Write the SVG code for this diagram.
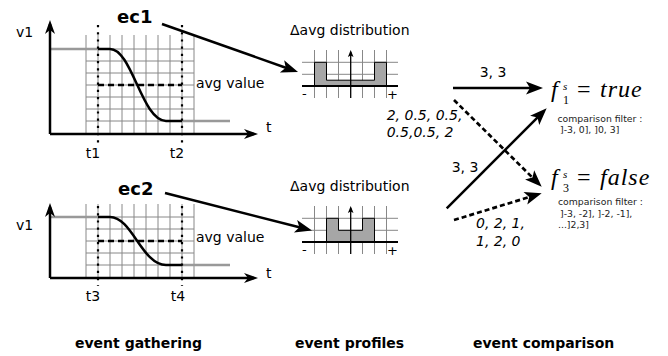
<svg xmlns="http://www.w3.org/2000/svg" width="668" height="356" viewBox="0 0 668 356">
<defs>
<marker id="big" markerUnits="userSpaceOnUse" markerWidth="30" markerHeight="20" viewBox="-10 -10 30 20" refX="0" refY="0" orient="auto" overflow="visible">
<path d="M10,0 L-7,-6.5 L-3,0 L-7,6.5 z" fill="#000"/>
</marker>
<marker id="ax" markerUnits="userSpaceOnUse" markerWidth="20" markerHeight="14" viewBox="-12 -7 20 14" refX="0" refY="0" orient="auto" overflow="visible">
<path d="M4,0 L-10,-5 L-6,0 L-10,5 z" fill="#000"/>
</marker>
<marker id="sm" markerUnits="userSpaceOnUse" markerWidth="10" markerHeight="8" viewBox="-6 -4 10 8" refX="0" refY="0" orient="auto" overflow="visible">
<path d="M2,0 L-5,-2.8 L-3.5,0 L-5,2.8 z" fill="#000"/>
</marker>
</defs>
<style>
text{font-family:"DejaVu Sans","Noto Sans",sans-serif;fill:#000}
.grid{stroke:#888;stroke-width:1;fill:none}
.axis{stroke:#000;stroke-width:2.5;fill:none}
.gray{stroke:#999;stroke-width:2.5;fill:none}
.curve{stroke:#000;stroke-width:2.5;fill:none}
.avg{stroke:#000;stroke-width:2.5;stroke-dasharray:6,4;fill:none}
.dot{stroke:#000;stroke-width:2.2;stroke-dasharray:2.2,5;fill:none}
.lbl{font-size:14px}
.ec{font-size:18px;font-weight:bold}
.ttl{font-size:14px}
.bar{fill:#a6a6a6;stroke:#000;stroke-width:1}
.base{stroke:#000;stroke-width:2;fill:none}
.hax{stroke:#000;stroke-width:1.3;fill:none}
.pm{font-size:13px}
.num{font-size:14px;font-style:italic}
.cnt{font-size:14px}
.conn{stroke:#000;stroke-width:2.5;fill:none}
.dash{stroke:#000;stroke-width:2.7;stroke-dasharray:5,3;fill:none}
.math{font-family:"Liberation Serif","DejaVu Serif",serif;font-style:italic;font-size:24px}
.up{font-style:normal}
.sup{font-size:11px}
.sub{font-size:12px}
.word{letter-spacing:1px}
.flt{font-size:9.3px;fill:#222}
.stage{font-size:14px;font-weight:bold}
</style>

<g id="plot1">
<path class="grid" d="M86,35V134M110,35V134M122,35V134M134,35V134M146,35V134M158,35V134M170,35V134M194,35V134M98,35V134M182,35V134"/>
<path class="grid" d="M86,49H194M86,61H194M86,73H194M86,85H194M86,97H194M86,109H194M86,121H194"/>
<path class="gray" d="M50,49H98M182,121H230"/>
<path class="curve" d="M98,49H110C132,49 142,121 166,121H182"/>
<path class="avg" d="M98,85H182"/>
<path class="dot" d="M98,25V143M182,25V143"/>
<path class="axis" d="M50,134V24" marker-end="url(#ax)"/>
<path class="axis" d="M50,134H254" marker-end="url(#ax)"/>
<text class="lbl" x="16" y="37">v1</text>
<text class="lbl" x="266" y="132">t</text>
<text class="lbl" x="93" y="158" text-anchor="middle">t1</text>
<text class="lbl" x="177" y="158" text-anchor="middle">t2</text>
<text class="lbl" x="196" y="88">avg value</text>
<text class="ec" x="117" y="23">ec1</text>
</g>

<g id="plot2">
<path class="grid" d="M86,204V278M110,204V278M122,204V278M134,204V278M146,204V278M158,204V278M170,204V278M194,204V278M98,204V278M182,204V278"/>
<path class="grid" d="M86,217H194M86,229H194M86,241H194M86,253H194M86,265H194"/>
<path class="gray" d="M50,217H98M182,265H230"/>
<path class="curve" d="M98,217H110C132,217 142,265 166,265H182"/>
<path class="avg" d="M98,241H182"/>
<path class="dot" d="M98,206V286M182,206V286"/>
<path class="axis" d="M50,278V207" marker-end="url(#ax)"/>
<path class="axis" d="M50,278H254" marker-end="url(#ax)"/>
<text class="lbl" x="16" y="230">v1</text>
<text class="lbl" x="266" y="278">t</text>
<text class="lbl" x="93" y="301" text-anchor="middle">t3</text>
<text class="lbl" x="178" y="301" text-anchor="middle">t4</text>
<text class="lbl" x="196" y="242">avg value</text>
<text class="ec" x="118" y="195">ec2</text>
</g>

<g id="hist1">
<text class="ttl" x="290" y="35">Δavg distribution</text>
<path class="grid" d="M314.5,50V98M326.5,50V98M338.5,50V98M362.5,50V98M374.5,50V98M386.5,50V98"/>
<path class="grid" d="M302,62.3H398M302,74.3H398"/>
<path class="bar" d="M314.5,86V62.3H326.5V80.2H374.5V62.3H386.5V86z"/>
<path class="base" d="M302,86H398"/>
<path class="hax" d="M350.7,98V52" marker-end="url(#sm)"/>
<text class="pm" x="302" y="98">-</text>
<text class="pm" x="387" y="99">+</text>
</g>

<g id="hist2">
<text class="ttl" x="290" y="191">Δavg distribution</text>
<path class="grid" d="M314.5,206V254M326.5,206V254M338.5,206V254M362.5,206V254M374.5,206V254M386.5,206V254"/>
<path class="grid" d="M302,218.3H398M302,230.3H398"/>
<path class="bar" d="M326.5,242V218.3H338.5V230.3H362.5V218.3H374.5V242z"/>
<path class="base" d="M302,242H398"/>
<path class="hax" d="M350.7,254V208" marker-end="url(#sm)"/>
<text class="pm" x="302" y="254">-</text>
<text class="pm" x="387" y="255">+</text>
</g>

<g id="result1">
<text class="math" x="551" y="97">f<tspan class="sup" x="563" y="89.5">s</tspan><tspan class="sub up" x="563" y="104">1</tspan><tspan class="up" x="577" y="97">=</tspan><tspan class="word" x="600" y="97">true</tspan></text>
<text class="flt" x="557.5" y="121.7">comparison filter :</text>
<text class="flt" x="560" y="133.3">]-3, 0], ]0, 3]</text>
</g>

<g id="result2">
<text class="math" x="551" y="185">f<tspan class="sup" x="563" y="177.5">s</tspan><tspan class="sub up" x="563" y="192">3</tspan><tspan class="up" x="577" y="185">=</tspan><tspan class="word" x="600" y="185">false</tspan></text>
<text class="flt" x="558" y="205">comparison filter :</text>
<text class="flt" x="560" y="216.7">]-3, -2], ]-2, -1],</text>
<text class="flt" x="558" y="228.3">...]2,3]</text>
</g>

<g id="connectors">
<path class="conn" d="M162,24L288.6,68.7" marker-end="url(#big)"/>
<path class="conn" d="M165,193L302.3,228" marker-end="url(#big)"/>
<path class="conn" d="M453,88H533" marker-end="url(#big)"/>
<path class="dash" d="M454,100L534.6,179.7" marker-end="url(#big)"/>
<path class="conn" d="M446.7,208.3L539.6,115.4" marker-end="url(#big)"/>
<path class="dash" d="M454,220L532.1,196.2" marker-end="url(#big)"/>
<text class="cnt" x="493" y="77" text-anchor="middle">3, 3</text>
<text class="cnt" x="465" y="172" text-anchor="middle">3, 3</text>
<text class="num" x="386.7" y="120">2, 0.5, 0.5,</text>
<text class="num" x="386.7" y="136.5">0.5,0.5, 2</text>
<text class="num" x="476" y="228">0, 2, 1,</text>
<text class="num" x="476" y="245.5">1, 2, 0</text>
</g>

<text class="stage" x="75" y="348">event gathering</text>
<text class="stage" x="295" y="348">event profiles</text>
<text class="stage" x="473" y="348">event comparison</text>
</svg>
